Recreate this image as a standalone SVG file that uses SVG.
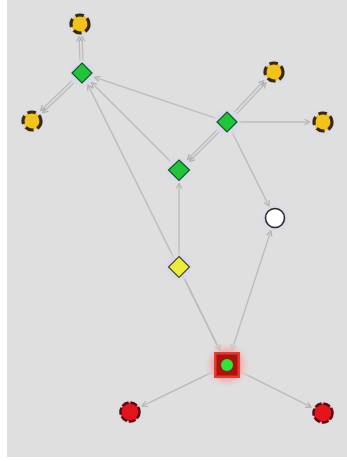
<svg xmlns="http://www.w3.org/2000/svg" width="347" height="461" viewBox="0 0 347 461">
<defs>
<style>
.e{stroke:#bcbcbc;stroke-width:1.4;fill:none}
.ea{stroke:#bcbcbc;stroke-width:1.4;fill:none;marker-end:url(#arr)}
.gy{fill:#f2c31c;stroke:#3b2808;stroke-width:3.2;stroke-dasharray:8.5 4}
.rd{fill:#e4141c;stroke:#5a0a0a;stroke-width:2.5;stroke-dasharray:7 2}
.gd{fill:#22c43c;stroke:#0f5a1c;stroke-width:1.2}
.halo{fill:url(#hg)}
</style>
<radialGradient id="hg"><stop offset="0.5" stop-color="#d4d4f2" stop-opacity="1"/><stop offset="1" stop-color="#dfdfdf" stop-opacity="0"/></radialGradient>
<radialGradient id="hr"><stop offset="0.6" stop-color="#f2b4b4" stop-opacity="1"/><stop offset="1" stop-color="#dfdfdf" stop-opacity="0"/></radialGradient>
<marker id="arr" viewBox="0 0 10 10" refX="9" refY="5" markerWidth="7" markerHeight="7" orient="auto" markerUnits="userSpaceOnUse">
<path d="M1,1 L9,5 L1,9" fill="none" stroke="#a4a4a4" stroke-width="1.3"/>
</marker>
<marker id="arrs" viewBox="0 0 10 10" refX="1" refY="5" markerWidth="7" markerHeight="7" orient="auto" markerUnits="userSpaceOnUse">
<path d="M9,1 L1,5 L9,9" fill="none" stroke="#a4a4a4" stroke-width="1.3"/>
</marker>
</defs>
<rect x="0" y="0" width="347" height="461" fill="#ffffff"/>
<rect x="7" y="0" width="340" height="457" fill="#dfdfdf"/>
<g id="connectors">
<line class="ea" x1="80" y1="61" x2="79" y2="36"/>
<line class="ea" x1="83" y1="61" x2="82" y2="36"/>
<line class="ea" x1="74.3" y1="82.4" x2="42.4" y2="113.1"/>
<line class="ea" x1="72.3" y1="80.2" x2="40.4" y2="110.9"/>
<line class="ea" x1="215.6" y1="118.2" x2="94.3" y2="77.2"/>
<line class="ea" x1="170.5" y1="161.5" x2="91.2" y2="82.2"/>
<line class="ea" x1="219.9" y1="350.7" x2="87.8" y2="84.6"/>
<line class="ea" x1="219.5" y1="131.5" x2="189.2" y2="161.8"/>
<line class="ea" x1="217.5" y1="129.5" x2="187.2" y2="159.8"/>
<line class="ea" x1="236.3" y1="114.3" x2="266.2" y2="82.5"/>
<line class="ea" x1="234.1" y1="112.3" x2="264" y2="80.5"/>
<line class="ea" x1="239" y1="122" x2="310" y2="122"/>
<line class="ea" x1="232.4" y1="132.7" x2="269.2" y2="206.4"/>
<line class="ea" x1="231.7" y1="350.7" x2="271" y2="230.4" marker-start="url(#arrs)"/>
<line class="ea" x1="179" y1="255" x2="179" y2="183"/>
<line class="ea" x1="184.7" y1="278.7" x2="220" y2="350.6"/>
<line class="ea" x1="212.6" y1="372" x2="141.7" y2="406.3"/>
<line class="ea" x1="241.3" y1="372.2" x2="311.4" y2="407.2"/>
</g>
<g id="n-top-yellow"><circle class="halo" cx="80" cy="24" r="16"/><circle class="gy" cx="80" cy="24" r="9"/></g>
<g id="n-left-yellow"><circle class="halo" cx="32" cy="121" r="16"/><circle class="gy" cx="32" cy="121" r="9"/></g>
<g id="n-topright-yellow"><circle class="halo" cx="274" cy="72" r="16"/><circle class="gy" cx="274" cy="72" r="9"/></g>
<g id="n-right-yellow"><circle class="halo" cx="323" cy="122" r="16"/><circle class="gy" cx="323" cy="122" r="9"/></g>
<g id="n-green-a"><circle class="halo" cx="82" cy="73" r="16"/><polygon class="gd" points="82,63 92,73 82,83 72,73"/></g>
<g id="n-green-b"><circle class="halo" cx="227" cy="122" r="16"/><polygon class="gd" points="227,112 237,122 227,132 217,122"/></g>
<g id="n-green-c"><circle class="halo" cx="179" cy="170" r="16"/><polygon class="gd" points="179,160 189.5,170 179,180.5 168.5,170"/></g>
<g id="n-white"><circle class="halo" cx="275" cy="218" r="17"/><circle cx="275" cy="218" r="9.5" fill="#ffffff" stroke="#2a2a2a" stroke-width="1.6"/></g>
<g id="n-yellow-diamond"><circle class="halo" cx="179" cy="267" r="17"/><polygon points="179,256.5 189.5,267 179,277.5 168.5,267" fill="#ecec3c" stroke="#4a4a20" stroke-width="1.2"/></g>
<g id="n-red-square"><circle cx="227" cy="365" r="24" fill="url(#hr)"/><rect x="214" y="352" width="26" height="26" fill="#e83a32"/><rect x="216.5" y="354.5" width="21" height="21" fill="#a8140e"/><circle cx="227" cy="365" r="6" fill="#2ee63a"/></g>
<g id="n-red-left"><circle class="halo" cx="130" cy="412" r="16"/><circle class="rd" cx="130" cy="412" r="9.5"/></g>
<g id="n-red-right"><circle class="halo" cx="323" cy="413" r="16"/><circle class="rd" cx="323" cy="413" r="9.5"/></g>
</svg>
